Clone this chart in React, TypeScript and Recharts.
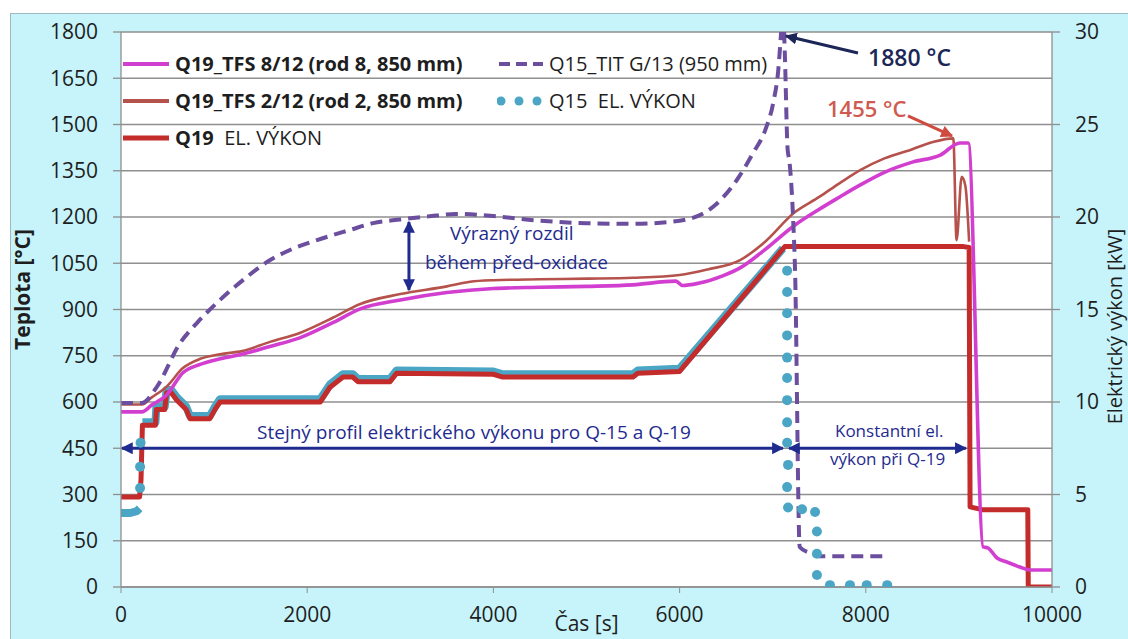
import React from 'react';
import {
  ComposedChart,
  Line,
  XAxis,
  YAxis,
  CartesianGrid,
  ReferenceLine,
  ReferenceDot,
  Legend,
} from 'recharts';

type Sample = [number, number | null];

const timeTicks = [0, 2000, 4000, 6000, 8000, 10000];
const tempTicks = [0, 150, 300, 450, 600, 750, 900, 1050, 1200, 1350, 1500, 1650, 1800];
const powerTicks = [0, 5, 10, 15, 20, 25, 30];

// Q19 rod 8 thermocouple, °C
const q19Tfs8: Sample[] = [
  [0, 568], [225, 568], [330, 590], [490, 623], [665, 695], [850, 722], [1063, 740],
  [1300, 755], [1600, 780], [1920, 808], [2280, 858], [2570, 902], [3000, 931],
  [3500, 955], [4000, 968], [4500, 972], [5000, 975], [5500, 980], [5960, 992],
  [6030, 978], [6200, 985], [6470, 1010], [6650, 1035], [6900, 1090], [7240, 1174],
  [7500, 1225], [7720, 1265], [7940, 1304], [8200, 1345], [8500, 1378], [8800, 1401],
  [9010, 1440], [9100, 1440], [9260, 130], [9310, 127], [9410, 94], [9515, 81],
  [9655, 65], [9765, 55], [10000, 55],
];

// Q19 rod 2 thermocouple, °C
const q19Tfs2: Sample[] = [
  [0, 592], [225, 592], [330, 615], [490, 650], [665, 710], [850, 740], [1063, 755],
  [1300, 765], [1600, 795], [1920, 824], [2280, 874], [2570, 918], [3000, 950],
  [3500, 975], [3750, 990], [4000, 995], [4500, 998], [5000, 1000], [5500, 1003],
  [6000, 1012], [6300, 1030], [6650, 1060], [6900, 1115], [7240, 1216], [7500, 1265],
  [7720, 1310], [7940, 1352], [8200, 1390], [8500, 1420], [8720, 1443], [8940, 1455],
  [8975, 1125], [9030, 1330], [9070, 1300], [9110, 1120],
];

// Q15 TIT G/13 at 950 mm, °C
const q15Tit: Sample[] = [
  [0, 597], [225, 597], [385, 649], [634, 791], [815, 856], [1063, 931], [1313, 996],
  [1568, 1054], [1815, 1093], [2105, 1125], [2460, 1158], [2707, 1180], [3000, 1192],
  [3300, 1202], [3600, 1210], [4000, 1203], [4500, 1188], [5000, 1180], [5500, 1178],
  [6000, 1188], [6360, 1233], [6615, 1320], [6790, 1408], [6920, 1482], [7005, 1570],
  [7060, 1677], [7090, 1797], [7110, 1880], [7130, 1732], [7160, 1420], [7180, 1380],
  [7220, 1190], [7240, 1028], [7290, 130], [7400, 110], [7500, 100], [8240, 100],
];

// Q19 electrical power, kW
const q19Power: Sample[] = [
  [0, 4.87], [200, 4.87], [215, 5.8], [230, 8.75], [370, 8.75], [380, 9.6], [470, 9.6],
  [490, 10.5], [540, 10.5], [600, 10.1], [700, 9.6], [740, 9.1], [955, 9.1], [1010, 9.6],
  [1063, 10.0], [2140, 10.0], [2245, 10.8], [2385, 11.35], [2490, 11.35], [2545, 11.1],
  [2890, 11.1], [2960, 11.55], [4000, 11.5], [4100, 11.35], [5500, 11.35], [5550, 11.55],
  [6000, 11.65], [7130, 18.4], [9050, 18.4], [9110, 18.35], [9120, 4.33], [9260, 4.17],
  [9740, 4.17], [9745, 0], [10000, 0],
];

// Q15 electrical power, kW: densely logged part
const q15PowerTrace: Sample[] = [
  [0, 4.0], [100, 4.0], [170, 4.1], [200, 4.25], [215, null], [230, 8.9], [370, 8.9],
  [380, 9.75], [470, 9.75], [490, 10.65], [540, 10.65], [600, 10.25], [700, 9.75],
  [740, 9.25], [955, 9.25], [1010, 9.75], [1063, 10.15], [2140, 10.15], [2245, 10.95],
  [2385, 11.5], [2490, 11.5], [2545, 11.25], [2890, 11.25], [2960, 11.7], [4000, 11.65],
  [4100, 11.5], [5500, 11.5], [5550, 11.7], [6000, 11.8], [7110, 18.3],
];

// Q15 electrical power, kW: sparse samples (drawn as markers)
const q15PowerPoints: Sample[] = [
  [205, 5.35], [205, 6.5], [210, 7.8],
  [7155, 17.1], [7155, 15.95], [7155, 14.8], [7155, 13.6], [7155, 12.4], [7155, 11.3],
  [7155, 10.1], [7155, 8.9], [7155, 7.8], [7165, 6.6], [7155, 5.4], [7165, 4.3],
  [7315, 4.2], [7455, 4.05], [7475, 3.0], [7475, 1.8], [7475, 0.65],
  [7615, 0.1], [7830, 0.1], [8010, 0.1], [8230, 0.1],
];

const rows = (s: Sample[]) => s.map(([t, v]) => ({ t, v }));

const FONT = '"Open Sans", sans-serif';
const INK = '#1e1e1e';
const GRID = '#8f8f8f';
const MAGENTA = '#d23fd0';
const BROWN = '#b5524c';
const RED = '#c42b2b';
const TEAL = '#4aa6c4';
const PURPLE = '#6b4f9e';
const NAVY = '#1f2b8f';

const tickStyle = { fontSize: 21, fill: INK, fontFamily: FONT, fontWeight: 500 };

const leftTitle = ({ viewBox }: any) => {
  const x = viewBox.x + 22;
  const y = viewBox.y + viewBox.height / 2 - 20;
  return (
    <text x={x} y={y} transform={`rotate(-90, ${x}, ${y})`} textAnchor="middle" dominantBaseline="central"
      fontFamily={FONT} fontSize={21} fontWeight={700} fill={INK}>
      Teplota [°C]
    </text>
  );
};

const rightTitle = ({ viewBox }: any) => {
  const x = viewBox.x + 62;
  const y = viewBox.y + viewBox.height / 2 + 17;
  return (
    <text x={x} y={y} transform={`rotate(-90, ${x}, ${y})`} textAnchor="middle" dominantBaseline="central"
      fontFamily={FONT} fontSize={20} fill={INK}>
      Elektrický výkon [kW]
    </text>
  );
};

const bottomTitle = ({ viewBox }: any) => (
  <text x={viewBox.x + viewBox.width / 2} y={viewBox.y + 36} textAnchor="middle" dominantBaseline="central"
    fontFamily={FONT} fontSize={21} fill={INK}>
    Čas [s]
  </text>
);

const note = (text: React.ReactNode, color: string, size: number, weight = 500) => (p: any) => (
  <text x={p.cx} y={p.cy} dominantBaseline="central" fontFamily={FONT} fontSize={size}
    fontWeight={weight} fill={color}>
    {text}
  </text>
);

const arrow = (color: string, width: number, both: boolean) => (p: any) => (
  <line x1={p.x1} y1={p.y1} x2={p.x2} y2={p.y2} stroke={color} strokeWidth={width}
    markerEnd={`url(#head-${color.slice(1)})`}
    markerStart={both ? `url(#head-${color.slice(1)})` : undefined} />
);

const Sample = ({ kind, color }: { kind: string; color: string }) => (
  <svg width={46} height={14} style={{ marginRight: 6, flex: 'none' }}>
    {kind === 'line' && <line x1={0} y1={7} x2={46} y2={7} stroke={color} strokeWidth={4} />}
    {kind === 'thick' && <line x1={0} y1={7} x2={46} y2={7} stroke={color} strokeWidth={5} />}
    {kind === 'dash' && <line x1={2} y1={7} x2={46} y2={7} stroke={color} strokeWidth={4} strokeDasharray="11 6" />}
    {kind === 'dots' && [4, 22, 40].map((cx) => <circle key={cx} cx={cx} cy={7} r={4.5} fill={color} />)}
  </svg>
);

const legendCells = [
  { kind: 'line', color: MAGENTA, text: <b>Q19_TFS 8/12 (rod 8, 850 mm)</b> },
  { kind: 'dash', color: PURPLE, text: <span>Q15_TIT G/13 (950 mm)</span> },
  { kind: 'line', color: BROWN, text: <b>Q19_TFS 2/12 (rod 2, 850 mm)</b> },
  { kind: 'dots', color: TEAL, text: <span>Q15&nbsp;&nbsp;EL. VÝKON</span> },
  { kind: 'thick', color: RED, text: <span><b>Q19</b>&nbsp;&nbsp;EL. VÝKON</span> },
];

const LegendBox = () => (
  <div style={{
    display: 'grid', gridTemplateColumns: '374px auto', gridAutoRows: '37px',
    fontFamily: FONT, fontSize: 20, color: INK,
  }}>
    {legendCells.map((c, i) => (
      <div key={i} style={{ display: 'flex', alignItems: 'center', whiteSpace: 'nowrap' }}>
        <Sample kind={c.kind} color={c.color} />
        {c.text}
      </div>
    ))}
  </div>
);

export default function App() {
  return (
    <div style={{ position: 'absolute', top: 0, left: 0, width: 1128, height: 639, background: '#fff', overflow: 'hidden' }}>
      <div style={{
        position: 'absolute', left: 10, top: 13, right: 0, bottom: 0,
        background: '#c6f4fa', borderLeft: '1px solid #9fb8bd', borderTop: '1px solid #9fb8bd',
      }} />
      <svg width={0} height={0} style={{ position: 'absolute' }}>
        <defs>
          {[NAVY, '#1c2657', '#cf4a3f'].map((c) => (
            <marker key={c} id={`head-${c.slice(1)}`} viewBox="0 0 10 10" refX={9} refY={5}
              markerWidth={4} markerHeight={4} orient="auto-start-reverse">
              <path d="M0,0 L10,5 L0,10 z" fill={c} />
            </marker>
          ))}
        </defs>
      </svg>
      <div style={{ position: 'absolute', top: 0, left: 0 }}>
        <ComposedChart width={1128} height={639} margin={{ top: 32, right: 0, bottom: 0, left: 0 }}>
          <CartesianGrid vertical={false} horizontal fill="#ffffff" stroke={GRID} strokeWidth={1.3} />
          <XAxis dataKey="t" type="number" domain={[0, 10000]} ticks={timeTicks} height={52}
            allowDataOverflow tick={tickStyle} tickSize={6} tickMargin={14}
            axisLine={{ stroke: GRID, strokeWidth: 1.3 }} tickLine={{ stroke: GRID }}
            label={{ content: bottomTitle }} />
          <YAxis type="number" domain={[0, 1800]} ticks={tempTicks} width={121} allowDataOverflow
            tick={tickStyle} tickSize={8} tickMargin={15}
            axisLine={{ stroke: GRID, strokeWidth: 1.3 }} tickLine={{ stroke: GRID, strokeWidth: 1.3 }}
            label={{ content: leftTitle }} />
          <YAxis yAxisId="power" orientation="right" type="number" domain={[0, 30]} ticks={powerTicks}
            width={76} allowDataOverflow tick={{ ...tickStyle, textAnchor: 'start' }} tickSize={8} tickMargin={15}
            axisLine={{ stroke: GRID, strokeWidth: 1.3 }} tickLine={{ stroke: GRID, strokeWidth: 1.3 }}
            label={{ content: rightTitle }} />

          <Legend layout="vertical" align="center" verticalAlign="middle" content={<LegendBox />}
            wrapperStyle={{ top: 45, left: 123, width: 720 }} />

          <Line data={rows(q15PowerTrace)} dataKey="v" yAxisId="power" type="linear" stroke={TEAL}
            strokeWidth={8} strokeLinejoin="round" dot={false} connectNulls={false} isAnimationActive={false} />
          <Line data={rows(q19Power)} dataKey="v" yAxisId="power" type="linear" stroke={RED}
            strokeWidth={5} strokeLinejoin="round" dot={false} isAnimationActive={false} />
          <Line data={rows(q19Tfs2)} dataKey="v" type="monotone" stroke={BROWN} strokeWidth={2.6}
            dot={false} isAnimationActive={false} />
          <Line data={rows(q19Tfs8)} dataKey="v" type="monotone" stroke={MAGENTA} strokeWidth={3.6}
            dot={false} isAnimationActive={false} />
          <Line data={rows(q15Tit)} dataKey="v" type="monotone" stroke={PURPLE} strokeWidth={4}
            strokeDasharray="12 7" dot={false} isAnimationActive={false} />
          <Line data={rows(q15PowerPoints)} dataKey="v" yAxisId="power" type="linear" stroke="none"
            dot={{ r: 5, fill: TEAL, stroke: 'none' }} isAnimationActive={false} />

          <ReferenceLine segment={[{ x: 7916, y: 1732 }, { x: 7143, y: 1787 }]} shape={arrow('#1c2657', 3, false)} />
          <ReferenceLine segment={[{ x: 8453, y: 1528 }, { x: 8926, y: 1463 }]} shape={arrow('#cf4a3f', 3, false)} />
          <ReferenceLine segment={[{ x: 3093, y: 1184 }, { x: 3093, y: 963 }]} shape={arrow(NAVY, 3, true)} />
          <ReferenceLine segment={[{ x: 10, y: 450 }, { x: 7110, y: 450 }]} shape={arrow(NAVY, 3, true)} />
          <ReferenceLine segment={[{ x: 7175, y: 450 }, { x: 9075, y: 450 }]} shape={arrow(NAVY, 3, true)} />

          <ReferenceDot x={8024} y={1719} shape={note('1880 °C', '#1c2657', 23, 600)} />
          <ReferenceDot x={7583} y={1553} shape={note('1455 °C', '#cf5a4f', 22, 600)} />
          <ReferenceDot x={3534} y={1148} shape={note('Výrazný rozdil', NAVY, 19)} />
          <ReferenceDot x={3265} y={1054} shape={note('během před-oxidace', NAVY, 19)} />
          <ReferenceDot x={1461} y={503} shape={note('Stejný profil elektrického výkonu pro Q-15 a Q-19', NAVY, 19)} />
          <ReferenceDot x={7669} y={509} shape={note('Konstantní el.', NAVY, 17)} />
          <ReferenceDot x={7615} y={418} shape={note('výkon při Q-19', NAVY, 17)} />
        </ComposedChart>
      </div>
    </div>
  );
}
